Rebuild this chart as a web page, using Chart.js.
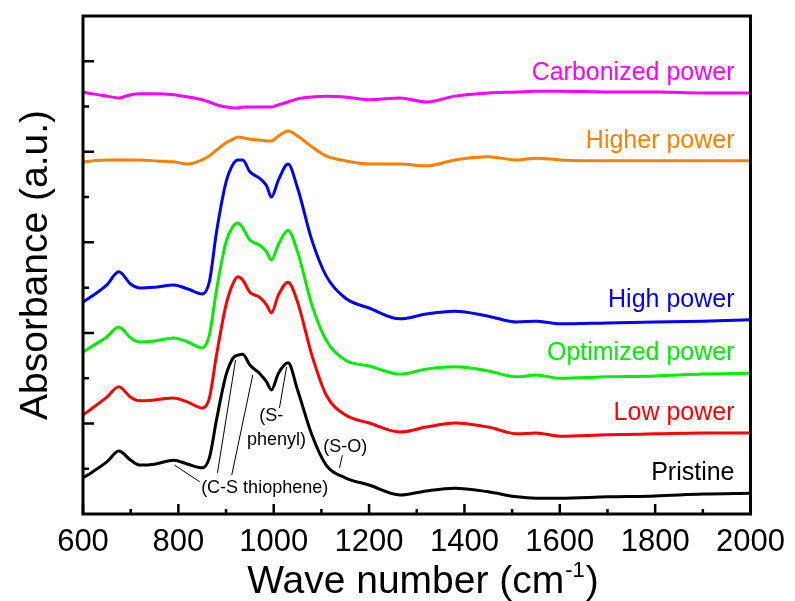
<!DOCTYPE html>
<html>
<head>
<meta charset="utf-8">
<script src="https://cdn.jsdelivr.net/npm/chart.js@4.4.0/dist/chart.umd.min.js"></script>
<style>
  html, body { margin: 0; padding: 0; background: #ffffff; }
  #wrap { width: 795px; height: 601px; }
</style>
</head>
<body>
<div id="wrap"><canvas id="ftirChart" width="795" height="601"></canvas></div>
<script>
// wave numbers (cm-1) shared by all spectra
const waveNumbers = [600, 620, 650, 675, 700, 720, 750, 790, 820, 850, 865, 880, 900, 915, 925, 935, 950, 970, 985, 995,
  1010, 1030, 1050, 1080, 1110, 1150, 1200, 1265, 1320, 1380, 1450, 1510, 1550, 1600, 1700, 1800, 1900, 2000];

// absorbance (a.u., stacked offsets as in the figure)
const pristine = [0.80, 0.93, 1.15, 1.39, 1.19, 1.08, 1.10, 1.19, 1.10, 1.02, 1.24, 2.08, 3.07, 3.45, 3.51, 3.53, 3.29, 3.11, 2.92, 2.74,
  3.11, 3.34, 2.74, 1.75, 1.08, 0.80, 0.64, 0.42, 0.51, 0.57, 0.49, 0.38, 0.35, 0.35, 0.38, 0.40, 0.44, 0.46];
const lowPower = [2.19, 2.34, 2.58, 2.81, 2.58, 2.50, 2.52, 2.56, 2.47, 2.34, 2.56, 3.51, 4.62, 5.10, 5.24, 5.17, 4.90, 4.79, 4.62, 4.44,
  4.84, 5.12, 4.68, 3.51, 2.63, 2.19, 2.01, 1.81, 1.92, 2.01, 1.92, 1.77, 1.79, 1.72, 1.75, 1.77, 1.79, 1.79];
const optimizedPower = [3.58, 3.71, 3.91, 4.13, 3.89, 3.80, 3.82, 3.89, 3.80, 3.67, 3.95, 4.95, 6.01, 6.36, 6.43, 6.32, 6.05, 5.94, 5.79, 5.61,
  5.96, 6.27, 5.79, 4.62, 3.84, 3.40, 3.27, 3.09, 3.20, 3.25, 3.16, 3.03, 3.07, 3.00, 3.03, 3.05, 3.09, 3.11];
const highPower = [4.68, 4.82, 5.06, 5.35, 5.08, 4.99, 5.01, 5.06, 4.97, 4.86, 5.13, 6.23, 7.33, 7.73, 7.82, 7.82, 7.56, 7.42, 7.25, 7.00,
  7.38, 7.73, 7.20, 6.05, 5.26, 4.77, 4.55, 4.31, 4.42, 4.48, 4.37, 4.24, 4.26, 4.20, 4.22, 4.24, 4.26, 4.29];
const higherPower = [7.78, 7.80, 7.82, 7.82, 7.82, 7.82, 7.80, 7.78, 7.73, 7.82, 7.91, 8.04, 8.20, 8.28, 8.33, 8.31, 8.28, 8.26, 8.24, 8.24,
  8.35, 8.46, 8.35, 8.11, 7.91, 7.80, 7.73, 7.73, 7.69, 7.82, 7.89, 7.82, 7.86, 7.82, 7.80, 7.80, 7.80, 7.80];
const carbonizedPower = [9.32, 9.28, 9.23, 9.19, 9.26, 9.28, 9.28, 9.26, 9.21, 9.15, 9.10, 9.04, 8.99, 8.97, 8.97, 8.99, 8.99, 8.99, 8.99, 8.99,
  9.04, 9.10, 9.17, 9.21, 9.23, 9.21, 9.15, 9.19, 9.10, 9.23, 9.30, 9.32, 9.34, 9.34, 9.32, 9.32, 9.30, 9.30];

const seriesNames = ["Pristine", "Low power", "Optimized power", "High power", "Higher power", "Carbonized power"];
const seriesColors = ["#000000", "#ff0000", "#00ee00", "#0000ff", "#ff8000", "#ff00ff"];

// axis ticks
const xTickLabels = [600, 800, 1000, 1200, 1400, 1600, 1800, 2000];
const xMinorTicks = [700, 900, 1100, 1300, 1500, 1700, 1900];
const yMajorTicks = [2, 4, 6, 8, 10];
const yMinorTicks = [1, 3, 5, 7, 9];

// band assignments drawn on the pristine spectrum
const bandLabels = [
  { text: "(C-S thiophene)", x: 981, y: 0.57 },
  { text: "(S-", x: 995, y: 2.16 },
  { text: "phenyl)", x: 1006, y: 1.63 },
  { text: "(S-O)", x: 1150, y: 1.48 }
];
const bandLeaders = [
  [792, 1.08, 845, 0.71],
  [882, 0.91, 920, 3.40],
  [912, 0.86, 956, 3.07],
  [1012, 2.34, 1027, 3.25],
  [1144, 1.30, 1138, 1.02]
];

const FONT = "'Liberation Sans', Arial, Helvetica, sans-serif";
const allSeries = [pristine, lowPower, optimizedPower, highPower, higherPower, carbonizedPower];

function toPoints(values) {
  return waveNumbers.map(function (w, i) {
    return { x: w, y: values[i] };
  });
}

const framePlugin = {
  id: "framePlugin",
  afterDraw: function (chart) {
    const ctx = chart.ctx;
    const area = chart.chartArea;
    const xs = chart.scales.x;
    const ys = chart.scales.y;
    ctx.save();

    // series names at the right end of each curve
    ctx.font = "25px " + FONT;
    ctx.textAlign = "right";
    ctx.textBaseline = "middle";
    allSeries.forEach(function (values, i) {
      ctx.fillStyle = seriesColors[i];
      const last = values[values.length - 1];
      ctx.fillText(seriesNames[i], area.right - 16, ys.getPixelForValue(last) - 20);
    });

    // band assignments
    ctx.fillStyle = "#000000";
    ctx.font = "18px " + FONT;
    ctx.textAlign = "center";
    bandLabels.forEach(function (b) {
      ctx.fillText(b.text, xs.getPixelForValue(b.x), ys.getPixelForValue(b.y));
    });
    ctx.strokeStyle = "#000000";
    ctx.lineWidth = 1;
    bandLeaders.forEach(function (l) {
      ctx.beginPath();
      ctx.moveTo(xs.getPixelForValue(l[0]), ys.getPixelForValue(l[1]));
      ctx.lineTo(xs.getPixelForValue(l[2]), ys.getPixelForValue(l[3]));
      ctx.stroke();
    });

    // frame
    ctx.lineWidth = 3;
    ctx.strokeRect(area.left, area.top, area.right - area.left, area.bottom - area.top);

    // inward ticks
    ctx.lineWidth = 2.5;
    ctx.beginPath();
    xTickLabels.forEach(function (v) {
      const px = xs.getPixelForValue(v);
      ctx.moveTo(px, area.bottom);
      ctx.lineTo(px, area.bottom - 10);
    });
    xMinorTicks.forEach(function (v) {
      const px = xs.getPixelForValue(v);
      ctx.moveTo(px, area.bottom);
      ctx.lineTo(px, area.bottom - 5);
    });
    yMajorTicks.forEach(function (v) {
      const py = ys.getPixelForValue(v);
      ctx.moveTo(area.left, py);
      ctx.lineTo(area.left + 11, py);
    });
    yMinorTicks.forEach(function (v) {
      const py = ys.getPixelForValue(v);
      ctx.moveTo(area.left, py);
      ctx.lineTo(area.left + 6, py);
    });
    ctx.stroke();

    // axis titles
    ctx.fillStyle = "#000000";
    ctx.save();
    ctx.translate(36, (area.top + area.bottom) / 2);
    ctx.rotate(-Math.PI / 2);
    ctx.font = "39px " + FONT;
    ctx.textAlign = "center";
    ctx.textBaseline = "middle";
    ctx.fillText("Absorbance (a.u.)", 0, 0);
    ctx.restore();

    const main = "Wave number (cm";
    const sup = "-1";
    const close = ")";
    ctx.textAlign = "left";
    ctx.textBaseline = "alphabetic";
    ctx.font = "39px " + FONT;
    const wMain = ctx.measureText(main).width;
    const wClose = ctx.measureText(close).width;
    ctx.font = "22px " + FONT;
    const wSup = ctx.measureText(sup).width;
    let x0 = 423 - (wMain + wSup + wClose + 2) / 2;
    const base = 593;
    ctx.font = "39px " + FONT;
    ctx.fillText(main, x0, base);
    ctx.font = "22px " + FONT;
    ctx.fillText(sup, x0 + wMain + 1, base - 16);
    ctx.font = "39px " + FONT;
    ctx.fillText(close, x0 + wMain + wSup + 2, base);

    ctx.restore();
  }
};

const ctx = document.getElementById("ftirChart").getContext("2d");
const ftirChart = new Chart(ctx, {
  type: "line",
  data: {
    datasets: allSeries.map(function (values, i) {
      return {
        label: seriesNames[i],
        data: toPoints(values),
        borderColor: seriesColors[i],
        borderWidth: 3,
        pointRadius: 0,
        fill: false,
        cubicInterpolationMode: "monotone",
      };
    }),
  },
  options: {
    responsive: false,
    animation: false,
    layout: {
      padding: { top: 16, right: 40, left: 0, bottom: 0 },
    },
    plugins: {
      legend: { display: false },
      tooltip: { enabled: false },
    },
    scales: {
      x: {
        type: "linear",
        min: 600,
        max: 2000,
        afterBuildTicks: function (scale) {
          scale.ticks = xTickLabels.map(function (v) { return { value: v }; });
        },
        afterFit: function (scale) {
          scale.height = 87;
        },
        ticks: {
          color: "#000000",
          padding: 10,
          maxRotation: 0,
          autoSkip: false,
          font: { family: FONT, size: 31 },
          callback: function (value) {
            return String(value);
          },
        },
        grid: { display: false, drawTicks: false },
        border: { display: false },
      },
      y: {
        min: 0,
        max: 11,
        afterFit: function (scale) {
          scale.width = 83;
        },
        ticks: { display: false },
        grid: { display: false, drawTicks: false },
        border: { display: false },
      },
    },
  },
  plugins: [framePlugin],
});
</script>
</body>
</html>
